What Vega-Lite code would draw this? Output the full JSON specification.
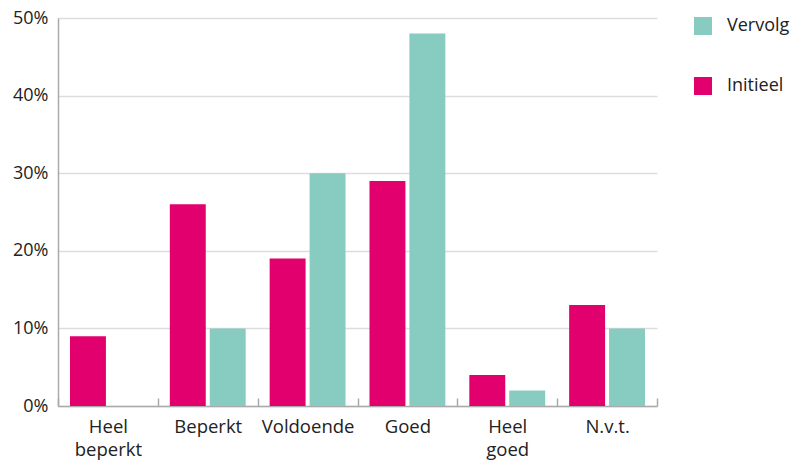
{
  "$schema": "https://vega.github.io/schema/vega-lite/v6.json",
  "width": 599,
  "height": 388,
  "autosize": {"type": "none"},
  "padding": {"left": 58, "top": 18, "right": 137, "bottom": 57},
  "background": "white",
  "config": {
    "font": "Open Sans",
    "view": {"stroke": null},
    "axis": {"labelColor": "#222222", "labelFontSize": 18, "titleColor": "#222222"},
    "legend": {"labelColor": "#222222"}
  },
  "data": {
    "values": [
      {"categorie": "Heel beperkt", "type": "Initieel", "waarde": 0.09},
      {"categorie": "Heel beperkt", "type": "Vervolg", "waarde": 0.0},
      {"categorie": "Beperkt", "type": "Initieel", "waarde": 0.26},
      {"categorie": "Beperkt", "type": "Vervolg", "waarde": 0.10},
      {"categorie": "Voldoende", "type": "Initieel", "waarde": 0.19},
      {"categorie": "Voldoende", "type": "Vervolg", "waarde": 0.30},
      {"categorie": "Goed", "type": "Initieel", "waarde": 0.29},
      {"categorie": "Goed", "type": "Vervolg", "waarde": 0.48},
      {"categorie": "Heel goed", "type": "Initieel", "waarde": 0.04},
      {"categorie": "Heel goed", "type": "Vervolg", "waarde": 0.02},
      {"categorie": "N.v.t.", "type": "Initieel", "waarde": 0.13},
      {"categorie": "N.v.t.", "type": "Vervolg", "waarde": 0.10}
    ]
  },
  "mark": {"type": "bar"},
  "encoding": {
    "x": {
      "field": "categorie",
      "type": "nominal",
      "sort": ["Heel beperkt", "Beperkt", "Voldoende", "Goed", "Heel goed", "N.v.t."],
      "scale": {"paddingInner": 0, "paddingOuter": 0},
      "axis": {
        "title": null,
        "labelAngle": 0,
        "labelFontSize": 18.5,
        "labelExpr": "split(datum.label, ' ')",
        "labelLineHeight": 23,
        "labelPadding": 19,
        "tickBand": "extent",
        "tickSize": -8,
        "tickColor": "#aaaaaa",
        "tickWidth": 1.5,
        "domainColor": "#aaaaaa",
        "domainWidth": 1.5
      }
    },
    "xOffset": {
      "field": "type",
      "type": "nominal",
      "sort": ["Initieel", "Vervolg"],
      "scale": {"paddingInner": 0.1, "paddingOuter": 0.3}
    },
    "y": {
      "field": "waarde",
      "type": "quantitative",
      "scale": {"domain": [0, 0.5], "nice": false},
      "axis": {
        "title": null,
        "format": ".0%",
        "values": [0, 0.1, 0.2, 0.3, 0.4, 0.5],
        "ticks": false,
        "labelPadding": 10,
        "domainColor": "#aaaaaa",
        "domainWidth": 1.5,
        "gridColor": "#dddddd",
        "gridWidth": 1.5
      }
    },
    "color": {
      "field": "type",
      "type": "nominal",
      "scale": {"domain": ["Vervolg", "Initieel"], "range": ["#88CBC0", "#E2006E"]},
      "legend": {
        "title": null,
        "orient": "none",
        "legendX": 636,
        "legendY": -1,
        "symbolType": "square",
        "symbolSize": 324,
        "symbolStrokeWidth": 0,
        "labelFontSize": 18,
        "labelOffset": 15,
        "rowPadding": 42,
        "padding": 0
      }
    }
  }
}
